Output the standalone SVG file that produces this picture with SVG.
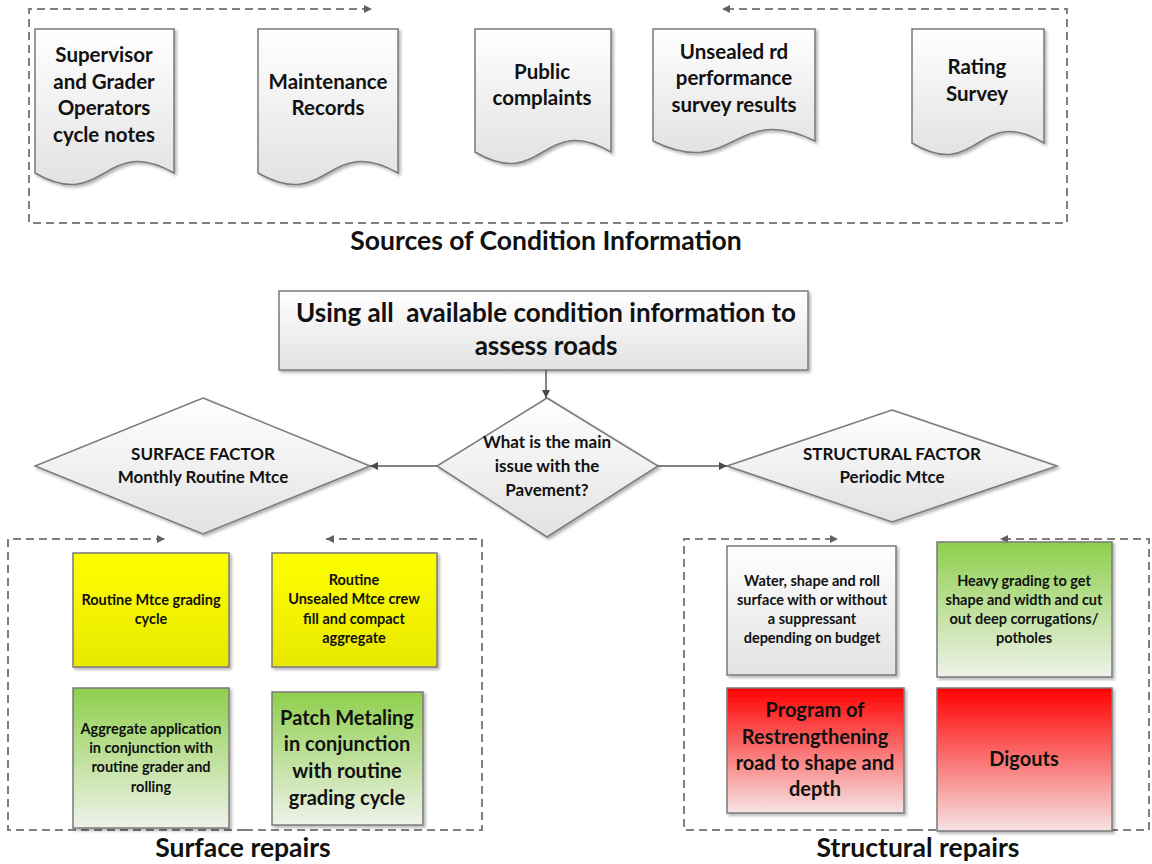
<svg xmlns="http://www.w3.org/2000/svg" width="1152" height="864" viewBox="0 0 1152 864">
  <style>
    .t { font-family: Lato, "Open Sans", sans-serif; font-weight: bold; fill: #111; text-anchor: middle; }
    .doc { font-size: 20.5px; }
    .head { font-size: 26.5px; }
    .dia { font-size: 17px; }
    .small { font-size: 14.5px; }
    .big { font-size: 20px; }
    .shape { stroke: #7a7a7a; stroke-width: 1.5; filter: url(#shadow); }
    .frame { fill: none; stroke: #808080; stroke-width: 2; stroke-dasharray: 8 5; }
    .conn { fill: none; stroke: #5a5a5a; stroke-width: 1.5; }
  </style>
  <defs>
    <filter id="shadow" x="-10%" y="-10%" width="130%" height="130%">
      <feDropShadow dx="2" dy="2" stdDeviation="1.5" flood-color="#000" flood-opacity="0.3"/>
    </filter>
    <linearGradient id="gGray" x1="0" y1="0" x2="0" y2="1">
      <stop offset="0" stop-color="#ffffff"/>
      <stop offset="1" stop-color="#e2e2e2"/>
    </linearGradient>
    <linearGradient id="gYellow" x1="0" y1="0" x2="0" y2="1">
      <stop offset="0" stop-color="#ffff00"/>
      <stop offset="1" stop-color="#e8e800"/>
    </linearGradient>
    <linearGradient id="gGreen" x1="0" y1="0" x2="0" y2="1">
      <stop offset="0" stop-color="#8ecf4c"/>
      <stop offset="1" stop-color="#eef2ea"/>
    </linearGradient>
    <linearGradient id="gRed" x1="0" y1="0" x2="0" y2="1">
      <stop offset="0" stop-color="#ff0000"/>
      <stop offset="1" stop-color="#f6e4e4"/>
    </linearGradient>
    <marker id="arrow" viewBox="0 0 10 10" refX="10" refY="5" markerWidth="8" markerHeight="8" markerUnits="userSpaceOnUse" orient="auto">
      <path d="M0,0 L10,5 L0,10 Z" fill="#4a4a4a"/>
    </marker>
    <marker id="arrowDash" viewBox="0 0 10 10" refX="10" refY="5" markerWidth="8" markerHeight="8" markerUnits="userSpaceOnUse" orient="auto">
      <path d="M0,0 L10,5 L0,10 Z" fill="#606060"/>
    </marker>
  </defs>

  <!-- dashed container frames with looping arrows -->
  <g id="frames">
    <path class="frame" d="M548,223 H29 V9 H372" marker-end="url(#arrowDash)"/>
    <path class="frame" d="M548,223 H1067 V9 H722" marker-end="url(#arrowDash)"/>
    <path class="frame" d="M245,830 H8 V539 H165" marker-end="url(#arrowDash)"/>
    <path class="frame" d="M245,830 H482 V539 H326" marker-end="url(#arrowDash)"/>
    <path class="frame" d="M915,830 H684 V539 H838" marker-end="url(#arrowDash)"/>
    <path class="frame" d="M915,830 H1149 V539 H1000" marker-end="url(#arrowDash)"/>
  </g>

  <!-- condition information sources -->
  <g id="doc-supervisor">
    <path class="shape" fill="url(#gGray)" d="M35,29 H174 V173 C104.5,133 104.5,213 35,173 Z"/>
    <text class="t doc" x="104" y="62">Supervisor</text>
    <text class="t doc" x="104" y="89">and Grader</text>
    <text class="t doc" x="104" y="115">Operators</text>
    <text class="t doc" x="104" y="142">cycle notes</text>
  </g>
  <g id="doc-maintenance">
    <path class="shape" fill="url(#gGray)" d="M258,29 H398 V173 C328,133 328,213 258,173 Z"/>
    <text class="t doc" x="328" y="89">Maintenance</text>
    <text class="t doc" x="328" y="115">Records</text>
  </g>
  <g id="doc-public">
    <path class="shape" fill="url(#gGray)" d="M475,29 H611 V152 C543,112 543,192 475,152 Z"/>
    <text class="t doc" x="542" y="79">Public</text>
    <text class="t doc" x="542" y="105">complaints</text>
  </g>
  <g id="doc-unsealed">
    <path class="shape" fill="url(#gGray)" d="M653,29 H815 V141 C734,101 734,181 653,141 Z"/>
    <text class="t doc" x="734" y="59">Unsealed rd</text>
    <text class="t doc" x="734" y="85">performance</text>
    <text class="t doc" x="734" y="112">survey results</text>
  </g>
  <g id="doc-rating">
    <path class="shape" fill="url(#gGray)" d="M912,29 H1044 V143 C978,103 978,183 912,143 Z"/>
    <text class="t doc" x="977" y="74">Rating</text>
    <text class="t doc" x="977" y="101">Survey</text>
  </g>
  <text id="label-sources" class="t head" x="546" y="250">Sources of Condition Information</text>

  <!-- assessment and decision -->
  <g id="assess">
    <rect class="shape" fill="url(#gGray)" x="279" y="291" width="529" height="79"/>
    <text class="t" font-size="26" x="546" y="322" style="white-space: pre">Using all  available condition information to</text>
    <text class="t" font-size="26" x="546" y="355">assess roads</text>
  </g>
  <g id="decision">
    <polygon class="shape" fill="url(#gGray)" points="547,398 658,466 547,537 437,466"/>
    <text class="t dia" x="547" y="448">What is the main</text>
    <text class="t dia" x="547" y="472">issue with the</text>
    <text class="t dia" x="547" y="496">Pavement?</text>
  </g>
  <g id="surface-factor">
    <polygon class="shape" fill="url(#gGray)" points="203,398 370,466 203,534 35,466"/>
    <text class="t dia" x="203" y="460">SURFACE FACTOR</text>
    <text class="t dia" x="203" y="483">Monthly Routine Mtce</text>
  </g>
  <g id="structural-factor">
    <polygon class="shape" fill="url(#gGray)" points="892,410 1057,466 892,522 727,466"/>
    <text class="t dia" x="892" y="460">STRUCTURAL FACTOR</text>
    <text class="t dia" x="892" y="483">Periodic Mtce</text>
  </g>

  <!-- connectors -->
  <g id="connectors">
    <path class="conn" d="M546,370 V398" marker-end="url(#arrow)"/>
    <path class="conn" d="M437,466 H370" marker-end="url(#arrow)"/>
    <path class="conn" d="M658,466 H727" marker-end="url(#arrow)"/>
  </g>

  <!-- surface repairs -->
  <g id="routine-grading">
    <rect class="shape" fill="url(#gYellow)" x="73" y="553" width="156" height="114"/>
    <text class="t small" x="151" y="605">Routine Mtce grading</text>
    <text class="t small" x="151" y="624">cycle</text>
  </g>
  <g id="routine-crew">
    <rect class="shape" fill="url(#gYellow)" x="272" y="553" width="165" height="114"/>
    <text class="t small" x="354" y="585">Routine</text>
    <text class="t small" x="354" y="604">Unsealed Mtce crew</text>
    <text class="t small" x="354" y="624">fill and compact</text>
    <text class="t small" x="354" y="643">aggregate</text>
  </g>
  <g id="aggregate-application">
    <rect class="shape" fill="url(#gGreen)" x="73" y="688" width="156" height="140"/>
    <text class="t small" x="151" y="734">Aggregate application</text>
    <text class="t small" x="151" y="753">in conjunction with</text>
    <text class="t small" x="151" y="772">routine grader and</text>
    <text class="t small" x="151" y="792">rolling</text>
  </g>
  <g id="patch-metaling">
    <rect class="shape" fill="url(#gGreen)" x="272" y="692" width="151" height="133"/>
    <text class="t big" x="347" y="725">Patch Metaling</text>
    <text class="t big" x="347" y="751">in conjunction</text>
    <text class="t big" x="347" y="778">with routine</text>
    <text class="t big" x="347" y="805">grading cycle</text>
  </g>
  <text id="label-surface" class="t head" x="243" y="857">Surface repairs</text>

  <!-- structural repairs -->
  <g id="water-shape-roll">
    <rect class="shape" fill="url(#gGray)" x="727" y="546" width="169" height="129"/>
    <text class="t small" x="812" y="586">Water, shape and roll</text>
    <text class="t small" x="812" y="605">surface with or without</text>
    <text class="t small" x="812" y="624">a suppressant</text>
    <text class="t small" x="812" y="643">depending on budget</text>
  </g>
  <g id="heavy-grading">
    <rect class="shape" fill="url(#gGreen)" x="937" y="542" width="175" height="135"/>
    <text class="t small" x="1024" y="586">Heavy grading to get</text>
    <text class="t small" x="1024" y="605">shape and width and cut</text>
    <text class="t small" x="1024" y="624">out deep corrugations/</text>
    <text class="t small" x="1024" y="643">potholes</text>
  </g>
  <g id="restrengthening">
    <rect class="shape" fill="url(#gRed)" x="727" y="688" width="177" height="125"/>
    <text class="t big" x="815" y="717">Program of</text>
    <text class="t big" x="815" y="744">Restrengthening</text>
    <text class="t big" x="815" y="770">road to shape and</text>
    <text class="t big" x="815" y="796">depth</text>
  </g>
  <g id="digouts">
    <rect class="shape" fill="url(#gRed)" x="937" y="688" width="175" height="143"/>
    <text class="t big" x="1024" y="766">Digouts</text>
  </g>
  <text id="label-structural" class="t head" x="918" y="857">Structural repairs</text>
</svg>
